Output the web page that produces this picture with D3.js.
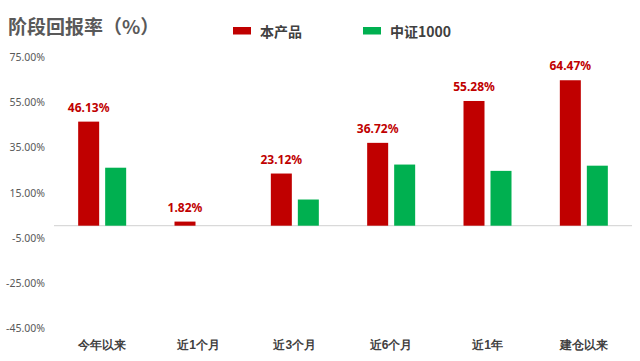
<!DOCTYPE html>
<html><head><meta charset="utf-8">
<script src="https://cdn.jsdelivr.net/npm/d3@7"></script>
<style>
html,body{margin:0;padding:0;background:#fff;}
svg{display:block;font-family:"Noto Sans CJK SC","Noto Sans",sans-serif;}
</style></head>
<body><svg id="c" width="640" height="361"></svg>
<script>
const categories = ["今年以来","近1个月","近3个月","近6个月","近1年","建仓以来"];
const productValues = [46.13, 1.82, 23.12, 36.72, 55.28, 64.47];
const indexValues = [25.7, null, 11.6, 27.1, 24.3, 26.6];
const seriesNames = ["本产品","中证1000"];
const yTicks = [75, 55, 35, 15, -5, -25, -45];
const colors = ["#C00000","#00B050"];

const svg = d3.select("#c");
const x = d3.scaleBand().domain(categories).range([54, 632]);
const y = d3.scaleLinear().domain([-45, 75]).range([327.2, 56.5]);
const barW = 21, gap = 6;

// zero line
svg.append("line").attr("x1",54).attr("x2",632).attr("y1",y(0)).attr("y2",y(0))
  .attr("stroke","#d9d9d9").attr("stroke-width",1.2);

// y axis labels
const yAxis = d3.axisLeft(y).tickValues(yTicks).tickSize(0).tickPadding(0)
  .tickFormat(d => d.toFixed(2) + "%");
const ya = svg.append("g").attr("transform","translate(45,0.8)").call(yAxis);
ya.select(".domain").remove();
ya.selectAll("text").attr("font-size",10.5).attr("fill","#595959")
  .attr("font-family","'Noto Sans','DejaVu Sans',sans-serif");

// x axis labels
const xAxis = d3.axisBottom(x).tickSize(0).tickPadding(0);
const xa = svg.append("g").attr("transform","translate(0,340)").call(xAxis);
xa.select(".domain").remove();
xa.selectAll("text").attr("font-size",12).attr("font-weight","bold").attr("fill","#404040");

const center = c => x(c) + x.bandwidth()/2;

// product bars
svg.append("g").selectAll("rect").data(categories).join("rect")
  .attr("x", c => center(c) - gap/2 - barW)
  .attr("width", barW)
  .attr("y", (c,i) => y(Math.max(0, productValues[i])))
  .attr("height", (c,i) => Math.abs(y(productValues[i]) - y(0)))
  .attr("fill", colors[0]);

// index bars
svg.append("g").selectAll("rect").data(categories.filter((c,i)=>indexValues[i]!=null)).join("rect")
  .attr("x", c => center(c) + gap/2)
  .attr("width", barW)
  .attr("y", c => y(Math.max(0, indexValues[categories.indexOf(c)])))
  .attr("height", c => Math.abs(y(indexValues[categories.indexOf(c)]) - y(0)))
  .attr("fill", colors[1]);

// value labels
svg.append("g").selectAll("text").data(categories).join("text")
  .attr("x", c => center(c) - gap/2 - barW/2)
  .attr("y", (c,i) => y(productValues[i]) - 10)
  .attr("text-anchor","middle")
  .attr("font-size",12).attr("font-weight","bold").attr("fill","#C00000")
  .attr("font-family","'Noto Sans','DejaVu Sans',sans-serif")
  .text((c,i) => productValues[i].toFixed(2) + "%");

// title
svg.append("text").attr("x",8).attr("y",34).attr("font-size",19).attr("font-weight","bold")
  .attr("fill","#595959").text("阶段回报率（%）");

// legend
const legX = [233, 363];
seriesNames.forEach((n,i) => {
  svg.append("rect").attr("x",legX[i]).attr("y",27).attr("width",18).attr("height",7.5).attr("fill",colors[i]);
  svg.append("text").attr("x",legX[i]+27).attr("y",36.5).attr("font-size",14).attr("font-weight","bold")
    .attr("fill","#404040").text(n);
});
</script></body></html>
